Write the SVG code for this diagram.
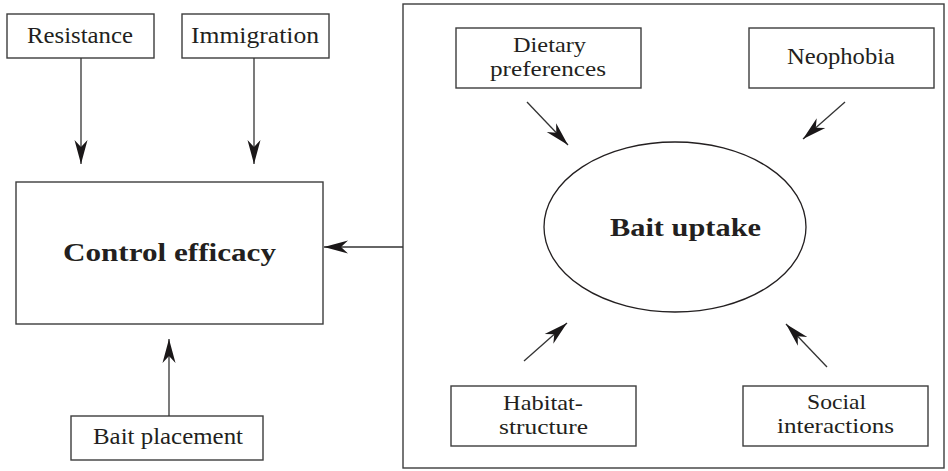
<svg xmlns="http://www.w3.org/2000/svg" width="948" height="471" viewBox="0 0 948 471">
  <style>
    .box { fill: #ffffff; stroke: #3d3d3d; stroke-width: 1.4; }
    .ell { fill: #ffffff; stroke: #231f20; stroke-width: 1.3; }
    .lbl { font-family: "Liberation Serif", "Times New Roman", serif; font-size: 23px; fill: #231f20; }
    .lbl2 { font-family: "Liberation Serif", "Times New Roman", serif; font-size: 21px; fill: #231f20; }
    .big { font-family: "Liberation Serif", "Times New Roman", serif; font-size: 26px; font-weight: bold; fill: #231f20; }
    .edge { fill: none; stroke: #333333; stroke-width: 1.3; }
  </style>
  <defs>
    <marker id="head" viewBox="-25 -8 26 16" refX="0" refY="0" markerWidth="26" markerHeight="16" markerUnits="userSpaceOnUse" orient="auto">
      <path d="M0,0 L-24,-6.5 L-17,0 L-24,6.5 Z" fill="#1a1718"/>
    </marker>
  </defs>

  <rect width="948" height="471" fill="#ffffff"/>

  <!-- frame around the bait-uptake factors -->
  <g id="bait-uptake-frame">
    <rect class="box" x="403" y="4" width="541" height="464"/>
  </g>

  <g id="resistance">
    <rect class="box" x="7" y="14" width="147" height="44"/>
    <text class="lbl" x="27" y="43" textLength="106" lengthAdjust="spacingAndGlyphs">Resistance</text>
  </g>

  <g id="immigration">
    <rect class="box" x="182" y="14" width="147" height="44"/>
    <text class="lbl" x="191" y="43" textLength="128" lengthAdjust="spacingAndGlyphs">Immigration</text>
  </g>

  <g id="control-efficacy">
    <rect class="box" x="16" y="182" width="307" height="142"/>
    <text class="big" x="63" y="261" textLength="213" lengthAdjust="spacingAndGlyphs">Control efficacy</text>
  </g>

  <g id="bait-placement">
    <rect class="box" x="71" y="416" width="192" height="44"/>
    <text class="lbl" x="93" y="444" textLength="150" lengthAdjust="spacingAndGlyphs">Bait placement</text>
  </g>

  <g id="dietary-preferences">
    <rect class="box" x="456" y="28" width="185" height="60"/>
    <text class="lbl2" x="513" y="51.5" textLength="73" lengthAdjust="spacingAndGlyphs">Dietary</text>
    <text class="lbl2" x="490" y="75.5" textLength="116" lengthAdjust="spacingAndGlyphs">preferences</text>
  </g>

  <g id="neophobia">
    <rect class="box" x="749" y="28" width="185" height="60"/>
    <text class="lbl" x="787" y="64" textLength="108" lengthAdjust="spacingAndGlyphs">Neophobia</text>
  </g>

  <g id="bait-uptake">
    <ellipse class="ell" cx="675" cy="227" rx="131" ry="85"/>
    <text class="big" x="610" y="236" textLength="151" lengthAdjust="spacingAndGlyphs">Bait uptake</text>
  </g>

  <g id="habitat-structure">
    <rect class="box" x="451" y="386" width="185" height="60"/>
    <text class="lbl2" x="503" y="410" textLength="80" lengthAdjust="spacingAndGlyphs">Habitat-</text>
    <text class="lbl2" x="499" y="434" textLength="89" lengthAdjust="spacingAndGlyphs">structure</text>
  </g>

  <g id="social-interactions">
    <rect class="box" x="743" y="386" width="185" height="60"/>
    <text class="lbl2" x="807" y="409" textLength="59" lengthAdjust="spacingAndGlyphs">Social</text>
    <text class="lbl2" x="777" y="433" textLength="117" lengthAdjust="spacingAndGlyphs">interactions</text>
  </g>

  <g id="connectors">
    <path class="edge" d="M81,58 L81,164" marker-end="url(#head)"/>
    <path class="edge" d="M254,58 L254,164" marker-end="url(#head)"/>
    <path class="edge" d="M169,416 L169,339" marker-end="url(#head)"/>
    <path class="edge" d="M403,247 L324,247" marker-end="url(#head)"/>
    <path class="edge" d="M527,102 L568,145" marker-end="url(#head)"/>
    <path class="edge" d="M845,102 L803,139" marker-end="url(#head)"/>
    <path class="edge" d="M524,361 L567,323" marker-end="url(#head)"/>
    <path class="edge" d="M827,367 L786,324" marker-end="url(#head)"/>
  </g>
</svg>
